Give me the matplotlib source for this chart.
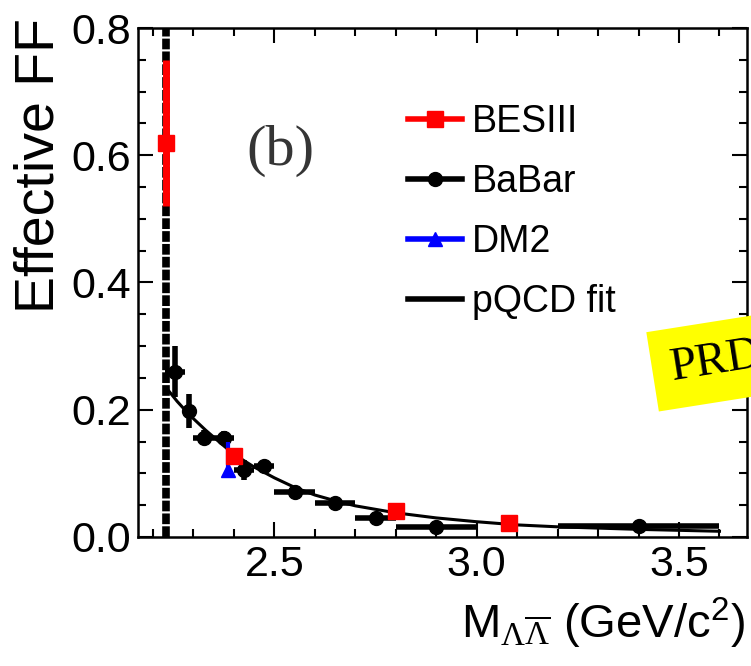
import matplotlib
matplotlib.use("Agg")
from matplotlib import pyplot as plt
from matplotlib.lines import Line2D
from matplotlib.ticker import MultipleLocator, FormatStrFormatter

plt.rcParams['font.family'] = ['Liberation Sans', 'DejaVu Sans']
plt.rcParams['mathtext.fontset'] = 'custom'
plt.rcParams['mathtext.rm'] = 'Liberation Serif'
plt.rcParams['mathtext.sf'] = 'Liberation Sans'

# --- data ---
threshold = 2.2316

besiii_m = [2.2324, 2.400, 2.800, 3.080]
besiii_ff = [0.620, 0.127, 0.041, 0.022]
besiii_lo = [0.100, 0.008, 0.006, 0.005]
besiii_hi = [0.130, 0.008, 0.006, 0.005]

babar_m = [2.255, 2.290, 2.325, 2.375, 2.425, 2.475, 2.55, 2.65, 2.75, 2.90, 3.40]
babar_dm = [0.025, 0.010, 0.025, 0.025, 0.025, 0.025, 0.05, 0.05, 0.05, 0.10, 0.20]
babar_ff = [0.260, 0.198, 0.156, 0.156, 0.105, 0.111, 0.071, 0.053, 0.030, 0.016, 0.017]
babar_err = [0.040, 0.026, 0.012, 0.010, 0.016, 0.008, 0.008, 0.008, 0.008, 0.006, 0.005]

dm2_m = [2.386]
dm2_ff = [0.105]
dm2_lo = [0.010]
dm2_hi = [0.045]

fit_m = [2.236, 2.26, 2.29, 2.33, 2.37, 2.40, 2.45, 2.50, 2.55, 2.60, 2.65,
         2.70, 2.80, 2.90, 3.00, 3.10, 3.20, 3.40, 3.60]
fit_ff = [0.232, 0.213, 0.192, 0.168, 0.146, 0.130, 0.110, 0.093, 0.078, 0.066, 0.057,
          0.049, 0.038, 0.030, 0.024, 0.019, 0.016, 0.012, 0.009]

W, H = 751, 666
fig = plt.figure(figsize=(W / 100, H / 100), dpi=100)
fig.set_facecolor("white")
ax = fig.add_axes([138 / W, 129 / H, (747 - 138) / W, (537 - 28) / H])

# threshold line, thick and dashed
ax.axvline(threshold, color='k', lw=5.5, dashes=(1.4, 0.28), zorder=1)
ax.plot(fit_m, fit_ff, color='k', lw=2.2, zorder=2)

ax.errorbar(babar_m, babar_ff, xerr=babar_dm, yerr=babar_err, fmt='o', color='k',
            ms=10, elinewidth=4, capsize=0, zorder=3)
ax.errorbar(dm2_m, dm2_ff, yerr=[dm2_lo, dm2_hi], fmt='^', color='#0000ff',
            ms=10, elinewidth=3, capsize=0, zorder=4)
ax.errorbar(besiii_m, besiii_ff, yerr=[besiii_lo, besiii_hi], fmt='s', color='#ff0000',
            ms=11, elinewidth=5, capsize=0, zorder=5)

ax.set_xlim(2.163, 3.668)
ax.set_ylim(0, 0.8)
ax.xaxis.set_major_locator(MultipleLocator(0.5))
ax.xaxis.set_minor_locator(MultipleLocator(0.1))
ax.yaxis.set_major_locator(MultipleLocator(0.2))
ax.yaxis.set_minor_locator(MultipleLocator(0.05))
ax.xaxis.set_major_formatter(FormatStrFormatter('%.1f'))
ax.yaxis.set_major_formatter(FormatStrFormatter('%.1f'))
ax.tick_params(which='both', direction='in', top=True, right=True, width=1.5,
               labelsize=31, colors='k')
ax.tick_params(which='major', length=11)
ax.tick_params(which='minor', length=6)
ax.tick_params(axis='x', pad=6)
ax.tick_params(axis='y', pad=5)
for s in ax.spines.values():
    s.set_linewidth(1.8)

# legend
handles = [
    Line2D([], [], color='#ff0000', lw=4, marker='s', ms=11),
    Line2D([], [], color='k', lw=4, marker='o', ms=10),
    Line2D([], [], color='#0000ff', lw=4, marker='^', ms=10),
    Line2D([], [], color='k', lw=4),
]
labels = ['BESIII', 'BaBar', 'DM2', 'pQCD fit']
fig.legend(handles, labels, loc='upper left', bbox_to_anchor=(408 / W, (H - 104) / H),
           frameon=False, fontsize=27, handlelength=1.45, handletextpad=0.25,
           labelspacing=0.64, borderpad=0, borderaxespad=0, numpoints=1)

fig.text(280 / W, (H - 165) / H, '(b)', family='Liberation Serif', fontsize=42,
         color='#353535', ha='center', va='baseline')

fig.text(745 / W, (H - 638) / H,
         r'M$_{\mathrm{\Lambda\overline{\Lambda}}}$ (GeV/c$^{\mathsf{2}}$)',
         fontsize=34, ha='right', va='baseline')
fig.text(40 / W, (H - 18) / H, 'Effective FF', fontsize=40, rotation=90,
         ha='center', va='top')

# yellow sticker, cut at the right edge as in the reference
fig.text(673 / W, (H - 380) / H, 'PRD', family='Liberation Serif', fontsize=34,
         rotation=9, rotation_mode='anchor', ha='left', va='baseline',
         bbox=dict(boxstyle='square,pad=0.4', facecolor='#ffff00', edgecolor='none'))

fig.savefig('out.png', dpi=100)
